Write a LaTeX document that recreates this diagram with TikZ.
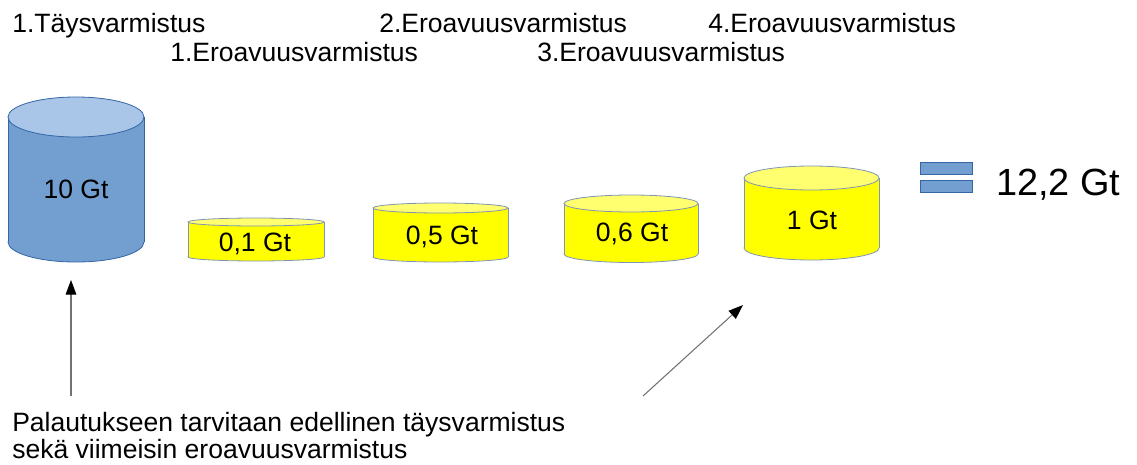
\documentclass[tikz,border=0pt]{standalone}
\usepackage{fontspec}
\setmainfont{Liberation Sans}
\usetikzlibrary{arrows.meta}
\definecolor{bluefill}{HTML}{729FCF}
\definecolor{bluetop}{HTML}{A9C6E8}
\definecolor{cylline}{HTML}{3465A4}
\definecolor{yelfill}{HTML}{FFFF00}
\definecolor{yeltop}{HTML}{FFFF70}
\definecolor{yelline}{HTML}{7E96B4}
\newcommand{\mycyl}[8]{%
  \path[fill=#7,draw=#8,line width=0.6pt] ({(#1+#2)/2},#4) ellipse [x radius={(#2-#1)/2}, y radius=#5];
  \fill[#7] (#1,#3) rectangle (#2,#4);
  \draw[#8,line width=0.6pt] (#1,#3) -- (#1,#4) (#2,#3) -- (#2,#4);
  \path[fill=#6,draw=#8,line width=0.6pt] ({(#1+#2)/2},#3) ellipse [x radius={(#2-#1)/2}, y radius=#5];
}
\begin{document}
\begin{tikzpicture}[x=0.75pt,y=-0.75pt,
  txt/.style={inner sep=0pt,font=\fontsize{19.9pt}{23pt}\selectfont,text=black},
  big/.style={inner sep=0pt,font=\fontsize{28.4pt}{33pt}\selectfont,text=black},
  arr/.style={draw=black!55,line width=0.8pt,-{Triangle[length=11pt,width=8pt,color=black,fill=black]}}]
\useasboundingbox (0,0) rectangle (1137,464);
% top labels
\node[txt,anchor=base west] (l1) at (12,32) {1.Täysvarmistus};
\node[txt,anchor=base west] (l2) at (170,61) {1.Eroavuusvarmistus};
\node[txt,anchor=base west] (l3) at (379,32) {2.Eroavuusvarmistus};
\node[txt,anchor=base west] (l4) at (537,61) {3.Eroavuusvarmistus};
\node[txt,anchor=base west] (l5) at (708,32) {4.Eroavuusvarmistus};
% cylinders  L R T B ry top fill line
\mycyl{8}{144}{117}{242}{20}{bluetop}{bluefill}{cylline}
\mycyl{188}{324}{222}{257}{4}{yeltop}{yelfill}{yelline}
\mycyl{373}{508}{208}{257}{5}{yeltop}{yelfill}{yelline}
\mycyl{564}{698}{203.5}{254}{8.5}{yeltop}{yelfill}{yelline}
\mycyl{744}{879}{178}{248}{12}{yeltop}{yelfill}{yelline}
\node[txt,anchor=base] (c0) at (76,198) {10 Gt};
\node[txt,anchor=base] (c1) at (255,251) {0,1 Gt};
\node[txt,anchor=base] (c2) at (442,244) {0,5 Gt};
\node[txt,anchor=base] (c3) at (632,241) {0,6 Gt};
\node[txt,anchor=base] (c4) at (812,229) {1 Gt};
% equals sign and total
\path[fill=bluefill,draw=cylline,line width=0.6pt] (920,162) rectangle (972,174);
\path[fill=bluefill,draw=cylline,line width=0.6pt] (920,180) rectangle (972,192);
\node[big,anchor=base west] (tot) at (996,195) {12,2 Gt};
% arrows
\coordinate (a1s) at (71,396);
\coordinate (a1e) at (71,280);
\coordinate (a2s) at (643,396);
\coordinate (a2e) at (743,305);
\draw[arr] (a1s) -- (a1e);
\draw[arr] (a2s) -- (a2e);
% bottom text
\node[txt,anchor=base west] (b1) at (12,431) {Palautukseen tarvitaan edellinen täysvarmistus};
\node[txt,anchor=base west] (b2) at (12,458) {sekä viimeisin eroavuusvarmistus};
\end{tikzpicture}
\end{document}
